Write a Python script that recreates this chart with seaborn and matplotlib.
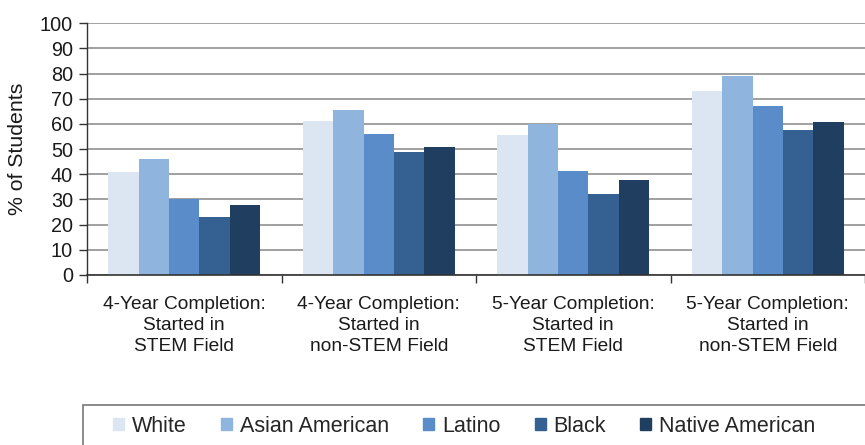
import seaborn as sns
import pandas as pd
import numpy as np
import matplotlib
matplotlib.use('Agg')
import matplotlib.pyplot as plt
from matplotlib.patches import Rectangle

groups = ["4-Year Completion:\nStarted in\nSTEM Field",
          "4-Year Completion:\nStarted in\nnon-STEM Field",
          "5-Year Completion:\nStarted in\nSTEM Field",
          "5-Year Completion:\nStarted in\nnon-STEM Field"]
races = ["White", "Asian American", "Latino", "Black", "Native American"]
white = [41, 61, 55.5, 73.3]
asian = [46, 65.5, 60, 79]
latino = [30, 56.2, 41.5, 67.3]
black = [23.2, 48.7, 32, 57.8]
native = [28, 50.7, 37.8, 60.6]
colors = ["#dce6f2", "#8fb4de", "#598cc8", "#356192", "#1f3e60"]

rows = []
for race, vals in zip(races, [white, asian, latino, black, native]):
    for g, v in zip(groups, vals):
        rows.append({"group": g, "race": race, "value": v})
df = pd.DataFrame(rows)

sns.set_style("white")
plt.rcParams['font.family'] = ['Liberation Sans', 'DejaVu Sans']

fig = plt.figure(figsize=(8.65, 4.45), dpi=100)
ax = fig.add_axes([87/865, 1-275/445, (865-87)/865, (275-23.3)/445])
sns.barplot(data=df, x="group", y="value", hue="race", hue_order=races,
            palette=colors, saturation=1, width=0.78, gap=0, ax=ax,
            linewidth=0, legend=False)

ax.set_ylim(0, 100)
ax.set_xlim(-0.5, 3.5)
ax.set_yticks(np.arange(0, 101, 10))
ax.tick_params(axis='y', labelsize=14.3, length=6, width=1, color='#333333',
               left=True, pad=4, labelcolor='#1a1a1a')
ax.yaxis.grid(True, color='#a0a0a0', lw=1.4)
ax.set_axisbelow(True)

ax.set_xticks([-0.5, 0.5, 1.5, 2.5, 3.5])
ax.set_xticklabels([])
ax.tick_params(axis='x', which='major', length=6, width=1, color='#333333', bottom=True)
ax.set_xticks([0, 1, 2, 3], minor=True)
ax.set_xticklabels(groups, minor=True, fontsize=13.8, linespacing=1.3, color='#1a1a1a')
ax.tick_params(axis='x', which='minor', length=0, pad=15)
ax.set_xlabel("")
ax.set_ylabel("% of Students", fontsize=15.3, color='#1a1a1a', labelpad=9)

for s in ['top', 'right']:
    ax.spines[s].set_visible(False)
ax.spines['left'].set_color('#333333')
ax.spines['bottom'].set_color('#333333')
ax.spines['left'].set_linewidth(1)
ax.spines['bottom'].set_linewidth(1.2)

# legend box
fig.patches.append(Rectangle((83/865, -0.05), 0.99, 1-405/445+0.05,
                             transform=fig.transFigure, fill=False,
                             edgecolor='#777777', lw=1.2))
handles = [Rectangle((0, 0), 1, 1, color=c) for c in colors]
fig.legend(handles, races, loc='center left', bbox_to_anchor=(113/865, 1-426/445),
           ncol=5, frameon=False, fontsize=15.5, handlelength=0.5, handleheight=0.5,
           handletextpad=0.37, columnspacing=1.6, borderaxespad=0, borderpad=0)

plt.savefig('out.png', dpi=100)
